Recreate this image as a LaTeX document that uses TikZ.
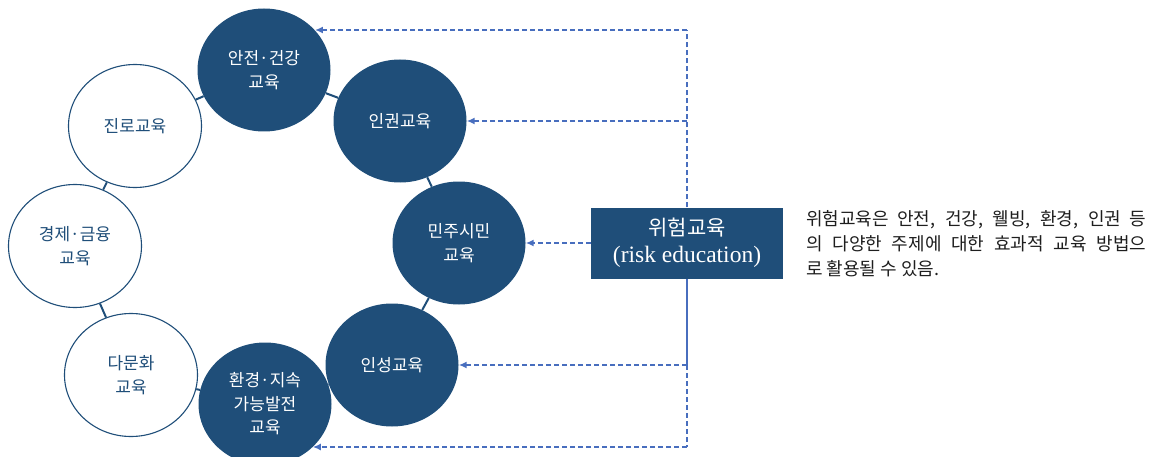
\documentclass[tikz,border=0pt]{standalone}
\usepackage{fontspec}
\setmainfont{Noto Sans CJK KR}
\newfontfamily\latinserif{Liberation Serif}
\usetikzlibrary{shapes.geometric,arrows.meta}
\definecolor{navy}{RGB}{31,78,121}
\definecolor{dashblue}{RGB}{72,110,190}
\definecolor{bodytext}{RGB}{30,30,30}
\begin{document}
\begin{tikzpicture}[x=1pt,y=-1pt,
  circ/.style={ellipse, minimum width=133pt, minimum height=123pt, inner sep=0pt, align=center, font=\fontsize{17}{23.5}\selectfont},
  darkc/.style={circ, fill=navy, text=white},
  lightc/.style={circ, draw=navy, line width=1.1pt, fill=white, text=navy},
  link/.style={draw=navy, line width=2pt},
  dline/.style={draw=dashblue, line width=1.6pt, dash pattern=on 5pt off 3pt},
  sline/.style={draw=dashblue, line width=1.6pt},
  arr/.style={dline, -{Latex[length=8pt,width=7pt]}},
  riskbox/.style={rectangle, fill=navy, text=white, minimum width=192pt, minimum height=71pt, align=center, font=\fontsize{21}{27}\selectfont},
  note/.style={anchor=west, align=left, text=bodytext, inner sep=0pt, font=\fontsize{18}{25}\selectfont}
]
\path[use as bounding box] (0,0) rectangle (1155,457);

\node[darkc] (safe) at (264,70) {안전·건강\\교육};
\node[darkc] (human) at (400,121) {인권교육};
\node[lightc] (career) at (135,126) {진로교육};
\node[lightc] (econ) at (75,246) {경제·금융\\교육};
\node[lightc] (multi) at (131,375) {다문화\\교육};
\node[darkc] (env) at (265,404) {환경·지속\\가능발전\\교육};
\node[darkc] (demo) at (459,243) {민주시민\\교육};
\node[darkc] (char) at (392,365) {인성교육};

\draw[link] (safe) -- (human);
\draw[link] (safe) -- (career);
\draw[link] (career) -- (econ);
\draw[link] (econ) -- (multi);
\draw[link] (multi) -- (env);
\draw[link] (env) -- (char);
\draw[link] (char) -- (demo);
\draw[link] (demo) -- (human);

\node[riskbox] (risk) at (687,243) {위험교육\\{\latinserif\fontsize{23.5}{27}\selectfont (risk education)}};

\coordinate (t) at (687,30);
\coordinate (j1) at (687,121);
\coordinate (j2) at (687,365);
\coordinate (b) at (687,447);

\draw[dline] (risk.north) -- (t);
\draw[sline] (risk.south) -- (j2);
\draw[dline] (j2) -- (b);
\draw[arr] (t) -- (t -| safe.38);
\draw[arr] (j1) -- (human);
\draw[arr] (risk) -- (demo);
\draw[arr] (j2) -- (char);
\draw[arr] (b) -- (b -| env.-42);

\node[note] (txt) at (806,244) {\makebox[340pt][s]{위험교육은 안전, 건강, 웰빙, 환경, 인권 등}\\\makebox[340pt][s]{의 다양한 주제에 대한 효과적 교육 방법으}\\로 활용될 수 있음.};
\end{tikzpicture}
\end{document}
